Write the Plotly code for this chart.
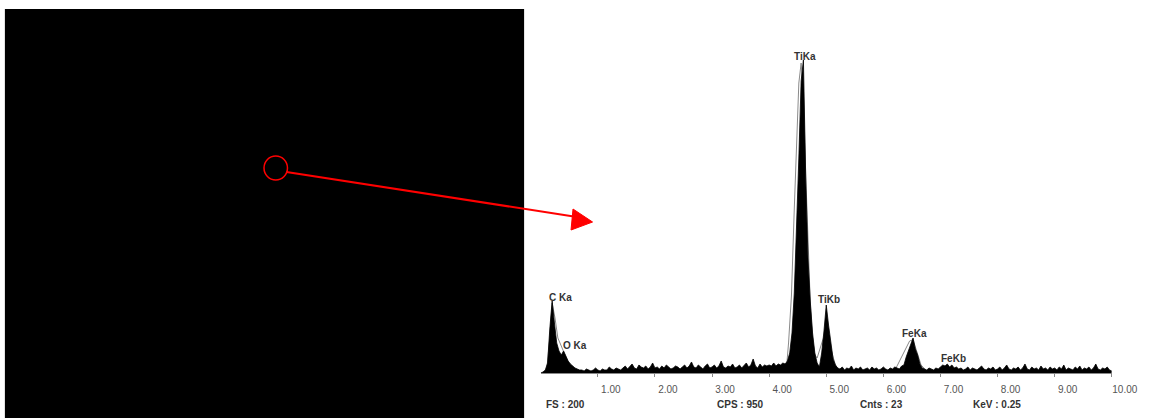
import plotly.graph_objects as go

W, H = 1172, 418

# ---------------- data (EDS spectrum, channel width 0.04 keV) ----------------
channel_step_kev = 0.04
counts = [
    0, 3, 9, 30, 135, 216, 150, 90, 66, 54, 66, 48, 36, 27, 21, 15, 12, 9, 9, 6, 12, 9, 6, 9, 15,
    9, 6, 12, 9, 9, 18, 12, 9, 15, 12, 9, 15, 21, 12, 18, 27, 15, 12, 24, 18, 15, 21, 12, 18, 30,
    15, 18, 12, 21, 15, 24, 18, 12, 15, 21, 18, 12, 18, 24, 15, 21, 33, 18, 15, 24, 18, 12, 21, 27, 15,
    18, 24, 15, 21, 36, 18, 15, 21, 18, 27, 15, 18, 24, 15, 21, 30, 18, 24, 42, 21, 15, 27, 18, 24, 21,
    24, 21, 30, 21, 27, 24, 30, 27, 36, 60, 120, 240, 420, 645, 876, 939, 588, 345, 216, 120, 60, 30, 18, 60, 126,
    204, 144, 84, 42, 24, 15, 12, 18, 9, 15, 12, 21, 9, 15, 12, 18, 9, 12, 15, 9, 18, 12, 15, 9, 12,
    18, 12, 9, 15, 12, 18, 15, 12, 21, 24, 48, 66, 84, 105, 72, 54, 27, 15, 12, 9, 15, 12, 9, 15, 12,
    18, 24, 21, 27, 18, 24, 15, 18, 12, 15, 9, 12, 18, 9, 15, 12, 9, 15, 21, 12, 9, 15, 12, 18, 9,
    12, 18, 9, 15, 24, 12, 9, 15, 12, 18, 9, 15, 27, 12, 9, 18, 12, 15, 9, 21, 12, 15, 9, 18, 12,
    15, 9, 18, 12, 24, 9, 15, 12, 9, 18, 12, 21, 9, 15, 12, 18, 9, 15, 27, 12, 9, 15, 12, 18, 9,
    6,
]
energy_kev = [round(channel_step_kev * i, 2) for i in range(len(counts))]

# fitted envelope (thin grey line) around the main peaks
fit_energy = [0.10, 0.15, 0.20, 0.25, 0.30, 0.35, 0.40, 0.45, 0.50, 0.60, 0.70, None,
              4.25, 4.30, 4.34, 4.39, 4.44, 4.48, 4.52, 4.56, 4.60, 4.64, 4.68, 4.72, 4.76, 4.80,
              4.84, 4.88, 4.94, 4.99, 5.04, 5.10, 5.16, 5.25, None,
              6.10, 6.20, 6.24, 6.32, 6.39, 6.46, 6.52, 6.58, 6.66, 6.76, 6.85]
fit_counts = [0, 90, 210, 165, 105, 84, 66, 42, 24, 9, 0, None,
              0, 9, 90, 231, 492, 690, 870, 930, 840, 600, 390, 210, 105, 54,
              45, 70, 100, 120, 110, 60, 24, 0, None,
              0, 9, 21, 48, 75, 96, 100, 66, 24, 6, 0]

peak_labels = ["C Ka", "O Ka", "TiKa", "TiKb", "FeKa", "FeKb"]
peak_label_x = [0.34, 0.60, 4.62, 5.04, 6.55, 7.23]
peak_label_y = [228, 84, 950, 222, 120, 45]

tick_values = [1, 2, 3, 4, 5, 6, 7, 8, 9, 10]
tick_text = ["1.00", "2.00", "3.00", "4.00", "5.00", "6.00", "7.00", "8.00", "9.00", "10.00"]

footer_text = ["FS : 200", "CPS : 950", "Cnts : 23", "KeV : 0.25"]

# ---------------- helpers for paper coordinates ----------------
def px(x):
    return x / W

def py(y):
    return (H - y) / H

fig = go.Figure()

fig.add_trace(go.Scatter(
    x=fit_energy, y=fit_counts, mode="lines",
    line=dict(color="#8a8a8a", width=1), connectgaps=False,
    hoverinfo="skip", showlegend=False,
))
fig.add_trace(go.Scatter(
    x=energy_kev, y=counts, mode="lines", fill="tozeroy",
    fillcolor="#000000", line=dict(color="#000000", width=0.8),
    showlegend=False,
))

# axes
x_left, x_right = 553, 1137
y_base, y_top = 373, 373 - 333.3
fig.update_layout(
    width=W, height=H,
    margin=dict(l=0, r=0, t=0, b=0),
    paper_bgcolor="white", plot_bgcolor="white",
    xaxis=dict(
        domain=[px(x_left), px(x_right)], range=[0, 10],
        tickvals=tick_values, ticktext=tick_text,
        ticks="outside", ticklen=3, tickcolor="#888", tickwidth=1,
        showline=True, linecolor="#888", linewidth=1,
        showgrid=False, zeroline=False,
        tickfont=dict(family="Liberation Sans, Arial", size=10, color="#555"),
        ticklabelshift=13, ticklabelstandoff=4,
        fixedrange=True,
    ),
    yaxis=dict(
        domain=[py(y_base), py(y_top)], range=[0, 1000],
        visible=False, showgrid=False, zeroline=False, fixedrange=True,
    ),
)

# peak labels
for t, lx, ly in zip(peak_labels, peak_label_x, peak_label_y):
    fig.add_annotation(
        x=lx, y=ly, xref="x", yref="y", text=f"<b>{t}</b>", showarrow=False,
        font=dict(family="Liberation Sans, Arial", size=10, color="#333"),
        xanchor="center", yanchor="middle",
    )

# footer
footer_pos = [(556, "left"), (757, "center"), (901, "center"), (1020, "center")]
for t, (fx, anc) in zip(footer_text, footer_pos):
    fig.add_annotation(
        x=px(fx), y=py(404), xref="paper", yref="paper", text=f"<b>{t}</b>",
        showarrow=False, xanchor=anc, yanchor="middle",
        font=dict(family="Liberation Sans, Arial", size=10, color="#333"),
    )

# SEM image panel (black), marker circle and arrow
fig.add_shape(type="rect", xref="paper", yref="paper",
              x0=px(5), x1=px(536), y0=py(418), y1=py(9),
              fillcolor="black", line=dict(width=0), layer="below")
fig.add_shape(type="circle", xref="paper", yref="paper",
              x0=px(270), x1=px(294), y0=py(180), y1=py(156),
              line=dict(color="#ff0000", width=1.5))
fig.add_shape(type="line", xref="paper", yref="paper",
              x0=px(293), y0=py(172), x1=px(590), y1=py(217),
              line=dict(color="#ff0000", width=2))
fig.add_shape(type="path", xref="paper", yref="paper",
              path=f"M {px(586)} {py(209)} L {px(606)} {py(222)} L {px(584)} {py(230)} Z",
              fillcolor="#ff0000", line=dict(color="#ff0000", width=1))

fig.write_html(
    "out.html",
    config={"displayModeBar": False},
    post_script="document.body.style.margin='0';document.body.style.overflow='hidden';",
)
